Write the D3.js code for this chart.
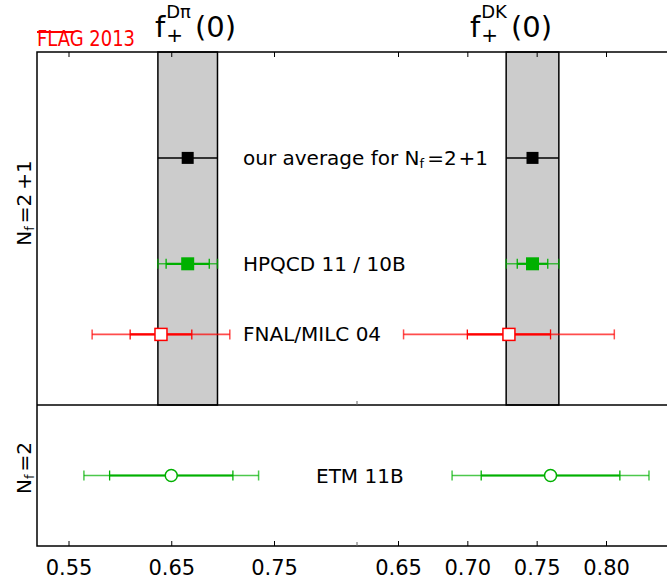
<!DOCTYPE html>
<html>
<head>
<meta charset="utf-8">
<script src="https://cdn.jsdelivr.net/npm/d3@7"></script>
<style>
  html, body { margin: 0; padding: 0; background: #fff; }
  svg { display: block; font-family: "DejaVu Sans", sans-serif; }
</style>
</head>
<body>
<svg id="chart" width="667" height="581"></svg>
<script>
// ---------------- data ----------------
const labels   = ["our average for", "HPQCD 11 / 10B", "FNAL/MILC 04", "ETM 11B"];
const panel    = ["2+1", "2+1", "2+1", "2"];
const rowPos   = [4.5, 3, 2, 1];
const markers  = ["avg", "filled", "open", "circle"];
const colors   = ["#000000", "#00b000", "#ff0000", "#00b000"];

const dpiValue = [0.666, 0.666, 0.64, 0.65];
const dpiStat  = [null, 0.021, 0.03, 0.06];
const dpiTotal = [0.029, 0.029, 0.067, 0.085];

const dkValue  = [0.747, 0.747, 0.73, 0.76];
const dkStat   = [null, 0.011, 0.03, 0.05];
const dkTotal  = [0.019, 0.019, 0.076, 0.071];

const dpiTicks = [0.55, 0.65, 0.75];
const dkTicks  = [0.65, 0.70, 0.75, 0.80];

const panelLabels = ["2+1", "2"];

// ---------------- layout ----------------
const svg = d3.select("#chart");
const L = 37, R = 672, T = 52, MID = 405, B = 546;

const xL = d3.scaleLinear().domain([0.55, 0.75]).range([68.5, 274]);
const xR = d3.scaleLinear().domain([0.65, 0.80]).range([398, 606]);
const yTop = d3.scaleLinear().domain([1, 6]).range([MID, T]);
const yBot = d3.scaleLinear().domain([0, 2]).range([B, MID]);
const yOf = i => panel[i] === "2+1" ? yTop(rowPos[i]) : yBot(rowPos[i]);

// gray bands (our average)
const bands = [
  {x: xL, v: dpiValue[0], e: dpiTotal[0]},
  {x: xR, v: dkValue[0], e: dkTotal[0]}
];
bands.forEach(b => {
  svg.append("rect")
    .attr("x", b.x(b.v - b.e)).attr("y", T)
    .attr("width", b.x(b.v + b.e) - b.x(b.v - b.e)).attr("height", MID - T)
    .attr("fill", "#cccccc").attr("stroke", "#000").attr("stroke-width", 1.5);
});

// frame
const frame = svg.append("g").attr("stroke", "#000").attr("stroke-width", 1.5).attr("fill", "none");
frame.append("rect").attr("x", L).attr("y", T).attr("width", R - L).attr("height", B - T);
frame.append("line").attr("x1", L).attr("x2", R).attr("y1", MID).attr("y2", MID);

// ticks + tick labels using axes
function drawAxis(scale, ticks) {
  const top = svg.append("g").attr("transform", `translate(0,${T})`)
    .call(d3.axisBottom(scale).tickValues(ticks).tickSize(5).tickFormat(""));
  top.select(".domain").remove();
  const bot = svg.append("g").attr("transform", `translate(0,${B})`)
    .call(d3.axisTop(scale).tickValues(ticks).tickSize(5).tickFormat(""));
  bot.select(".domain").remove();
  const lab = svg.append("g").attr("transform", `translate(0,${B})`)
    .call(d3.axisBottom(scale).tickValues(ticks).tickSize(0).tickPadding(0)
      .tickFormat(d3.format(".2f")));
  lab.select(".domain").remove();
  lab.selectAll("text").attr("y", 29).attr("dy", null)
    .attr("font-size", 21).attr("font-family", "DejaVu Sans").attr("fill", "#000");
  svg.selectAll(".tick line").attr("stroke", "#000").attr("stroke-width", 1);
}
drawAxis(xL, dpiTicks);
drawAxis(xR, dkTicks);

// small divider ticks between the two sub-axes
[MID, B].forEach(yy => {
  svg.append("line").attr("x1", 357).attr("x2", 357).attr("y1", yy).attr("y2", yy - 4)
    .attr("stroke", "#666").attr("stroke-width", 1);
});

// error bars + markers
function drawEntry(x, v, stat, tot, i) {
  const y = yOf(i), c = colors[i];
  const g = svg.append("g");
  if (markers[i] === "avg") {
    g.append("line").attr("x1", x(v - tot)).attr("x2", x(v + tot)).attr("y1", y).attr("y2", y)
      .attr("stroke", c).attr("stroke-width", 1.5);
  } else {
    g.append("line").attr("x1", x(v - tot)).attr("x2", x(v + tot)).attr("y1", y).attr("y2", y)
      .attr("stroke", c).attr("stroke-width", 1.6).attr("stroke-opacity", 0.7);
    [v - tot, v + tot].forEach(e => g.append("line")
      .attr("x1", x(e)).attr("x2", x(e)).attr("y1", y - 5).attr("y2", y + 5)
      .attr("stroke", c).attr("stroke-width", 1.5).attr("stroke-opacity", 0.7));
    g.append("line").attr("x1", x(v - stat)).attr("x2", x(v + stat)).attr("y1", y).attr("y2", y)
      .attr("stroke", c).attr("stroke-width", 2.2);
    [v - stat, v + stat].forEach(e => g.append("line")
      .attr("x1", x(e)).attr("x2", x(e)).attr("y1", y - 5).attr("y2", y + 5)
      .attr("stroke", c).attr("stroke-width", 1.3));
  }
  const cx = x(v);
  if (markers[i] === "circle") {
    g.append("circle").attr("cx", cx).attr("cy", y).attr("r", 6)
      .attr("fill", "#fff").attr("stroke", c).attr("stroke-width", 1.5);
  } else if (markers[i] === "open") {
    g.append("rect").attr("x", cx - 6).attr("y", y - 6).attr("width", 12).attr("height", 12)
      .attr("fill", "#fff").attr("stroke", c).attr("stroke-width", 1.5);
  } else {
    const s = markers[i] === "avg" ? 12 : 13;
    g.append("rect").attr("x", cx - s / 2).attr("y", y - s / 2).attr("width", s).attr("height", s)
      .attr("fill", c);
  }
}
labels.forEach((lab, i) => {
  drawEntry(xL, dpiValue[i], dpiStat[i], dpiTotal[i], i);
  drawEntry(xR, dkValue[i], dkStat[i], dkTotal[i], i);
});

// row labels
labels.forEach((lab, i) => {
  const y = yOf(i) + 7;
  const t = svg.append("text").attr("x", i === 3 ? 316 : 243).attr("y", y)
    .attr("font-size", 20).attr("fill", "#000");
  if (i === 0) {
    t.append("tspan").text(lab + " N");
    t.append("tspan").attr("font-size", 13).attr("dy", 3).text("f");
    t.append("tspan").attr("dy", -3).attr("dx", 3).text("=2");
    t.append("tspan").attr("dx", 2).text("+1");
  } else {
    t.text(lab);
  }
});

// panel (y) labels
function yLabel(cy, val) {
  const t = svg.append("text").attr("transform", `translate(31,${cy}) rotate(-90)`)
    .attr("text-anchor", "middle").attr("font-size", 20).attr("fill", "#000");
  t.append("tspan").text("N");
  t.append("tspan").attr("font-size", 13).attr("dy", 3).text("f");
  t.append("tspan").attr("dy", -3).attr("dx", 3).text("=" + val.replace("+", "\u2009+"));
}
yLabel(203, panelLabels[0]);
yLabel(468, panelLabels[1]);

// titles
function title(x0, sup) {
  const base = 37;
  const f = svg.append("text").attr("x", x0).attr("y", base).attr("font-size", 29).text("f");
  const fw = f.node().getComputedTextLength();
  const sp = svg.append("text").attr("x", x0 + fw + 1).attr("y", 18).attr("font-size", 18).text(sup);
  const sb = svg.append("text").attr("x", x0 + fw + 1).attr("y", 42).attr("font-size", 20).text("+");
  const w = Math.max(sp.node().getComputedTextLength(), sb.node().getComputedTextLength());
  svg.append("text").attr("x", x0 + fw + w + 5).attr("y", base).attr("font-size", 29).text("(0)");
}
title(155, "D\u03c0");
title(470, "DK");

// FLAG 2013 logo
svg.append("text").attr("x", 37).attr("y", 46).attr("font-size", 20.5).attr("fill", "#ff0000")
  .attr("textLength", 98).attr("lengthAdjust", "spacingAndGlyphs")
  .text("FLAG 2013");
svg.append("line").attr("x1", 37).attr("x2", 74).attr("y1", 32).attr("y2", 32)
  .attr("stroke", "#ff0000").attr("stroke-width", 2);
</script>
</body>
</html>
